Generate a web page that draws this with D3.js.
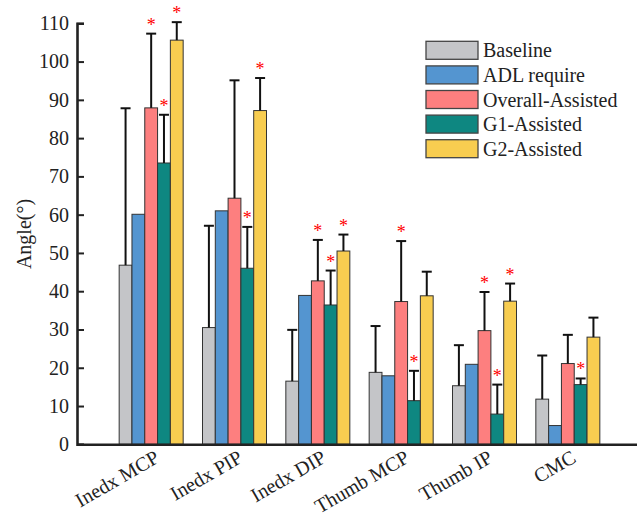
<!DOCTYPE html>
<html lang='en'>
<head>
  <meta charset='UTF-8'>
  <title>Angle</title>
  <style>
    * { margin: 0; padding: 0; }
    body { background: #fff; }
    #chart { width: 637px; height: 523px; }
    text { font-family: 'Liberation Serif', 'Times New Roman', serif; }
  </style>
</head>
<body>
<div id='chart'></div>
<script src='https://cdn.jsdelivr.net/npm/d3@7'></script>
<script>
  // data
  const joints = ['Inedx MCP', 'Inedx PIP', 'Inedx DIP', 'Thumb MCP', 'Thumb IP', 'CMC']
  const seriesNames = ['Baseline', 'ADL require', 'Overall-Assisted', 'G1-Assisted', 'G2-Assisted']
  const baseline = [46.8, 30.5, 16.5, 18.8, 15.3, 11.8]
  const baselineSd = [41.0, 26.6, 13.4, 12.1, 10.6, 11.4]
  const adl = [60.1, 61.0, 38.9, 17.9, 20.9, 4.9]
  const overall = [87.9, 64.3, 42.7, 37.3, 29.7, 21.1]
  const overallSd = [19.4, 30.8, 10.7, 15.8, 10.1, 7.5]
  const overallSig = [1, 0, 1, 1, 1, 0]
  const g1 = [73.5, 46.0, 36.4, 11.4, 7.9, 15.6]
  const g1Sd = [12.6, 10.8, 9.0, 7.8, 7.7, 1.6]
  const g1Sig = [1, 1, 1, 1, 1, 1]
  const g2 = [105.6, 87.2, 50.5, 38.8, 37.4, 28.0]
  const g2Sd = [4.7, 8.5, 4.3, 6.3, 4.6, 5.1]
  const g2Sig = [1, 1, 1, 0, 1, 0]
  const yTicks = [0, 10, 20, 30, 40, 50, 60, 70, 80, 90, 100, 110]

  const colors = ['#c4c5c8', '#5495d0', '#fd7f7f', '#0e8781', '#f8cd50']

  const series = [
    {name: seriesNames[0], values: baseline, sd: baselineSd, sig: null},
    {name: seriesNames[1], values: adl, sd: null, sig: null},
    {name: seriesNames[2], values: overall, sd: overallSd, sig: overallSig},
    {name: seriesNames[3], values: g1, sd: g1Sd, sig: g1Sig},
    {name: seriesNames[4], values: g2, sd: g2Sd, sig: g2Sig}
  ]

  let width = 637
  let height = 523

  let svg = d3.select('#chart')
  .append('svg')
  .attr('xmlns', 'http://www.w3.org/2000/svg')
  .attr('width', width)
  .attr('height', height)

  svg.append('rect')
  .attr('width', width)
  .attr('height', height)
  .style('fill', '#fff')

  // scales (group positions 1..6 like the original)
  let x = d3.scaleLinear().domain([0.11, 6.83]).range([77, 637])
  let y = d3.scaleLinear().domain([0, 110]).range([444.3, 23.3])
  const barW = 0.1536

  let chart = svg.append('g')

  // bars
  series.forEach((s, k) => {
    chart.append('g')
    .selectAll('rect')
    .data(s.values)
    .enter()
    .append('rect')
    .attr('x', (d, i) => x(i + 1 + (k - 2.5) * barW))
    .attr('y', d => y(d))
    .attr('width', x(barW) - x(0))
    .attr('height', d => y(0) - y(d))
    .attr('fill', colors[k])
    .attr('stroke', '#333')
    .attr('stroke-width', 1)
  })

  // error bars
  series.forEach((s, k) => {
    if (!s.sd) return
    let g = chart.append('g')
    s.values.forEach((v, i) => {
      let cx = x(i + 1 + (k - 2) * barW)
      let top = y(v + s.sd[i])
      g.append('line')
      .attr('x1', cx).attr('x2', cx)
      .attr('y1', y(v)).attr('y2', top)
      .attr('stroke', '#111').attr('stroke-width', 2)
      g.append('line')
      .attr('x1', cx - 5).attr('x2', cx + 5)
      .attr('y1', top).attr('y2', top)
      .attr('stroke', '#111').attr('stroke-width', 2)
      if (s.sig && s.sig[i]) {
        g.append('text')
        .attr('x', cx)
        .attr('y', top - 3)
        .attr('text-anchor', 'middle')
        .attr('fill', '#f00')
        .attr('font-size', 18)
        .text('*')
      }
    })
  })

  // y axis
  let yAxis = chart.append('g')
  .attr('transform', 'translate(' + x(0.11) + ',0)')
  .call(d3.axisRight(y).tickValues(yTicks).tickSize(7).tickFormat(d3.format('d')))
  yAxis.select('.domain').attr('stroke', '#222').attr('stroke-width', 2.6)
  yAxis.selectAll('.tick line').attr('stroke', '#222').attr('stroke-width', 2)
  yAxis.selectAll('.tick text')
  .attr('x', -8)
  .attr('text-anchor', 'end')
  .attr('font-size', 20)
  .attr('fill', '#222')
  .style('font-family', "'Liberation Serif', serif")

  // x axis
  let xAxis = chart.append('g')
  .attr('transform', 'translate(0,' + y(0) + ')')
  .call(d3.axisBottom(x).tickValues(d3.range(1, 7)).tickSize(0).tickFormat(d => joints[d - 1]))
  xAxis.select('.domain').attr('stroke', '#222').attr('stroke-width', 2.6)
  xAxis.selectAll('.tick text')
  .attr('font-size', 20)
  .attr('fill', '#222')
  .attr('text-anchor', 'end')
  .attr('dy', 0)
  .attr('y', 0)
  .attr('transform', 'translate(9,17) rotate(-30)')
  .style('font-family', "'Liberation Serif', serif")

  // y label
  svg.append('text')
  .attr('transform', 'translate(31,234) rotate(-90)')
  .attr('text-anchor', 'middle')
  .attr('font-size', 20)
  .attr('fill', '#222')
  .text('Angle(°)')

  // legend
  let legend = svg.append('g')
  seriesNames.forEach((name, k) => {
    let ly = 41.3 + k * 24.6
    legend.append('rect')
    .attr('x', 426).attr('y', ly)
    .attr('width', 52).attr('height', 18)
    .attr('fill', colors[k])
    .attr('stroke', '#444').attr('stroke-width', 1.3)
    legend.append('text')
    .attr('x', 483).attr('y', ly + 16)
    .attr('font-size', 20)
    .attr('fill', '#222')
    .text(name)
  })
</script>
</body>
</html>
